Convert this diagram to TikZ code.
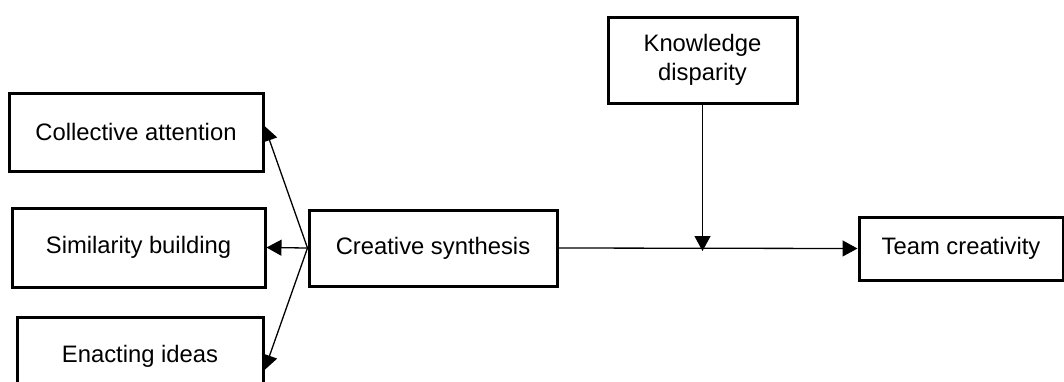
\documentclass[tikz,border=0pt]{standalone}
\usepackage{fontspec}
\setmainfont{Liberation Sans}
\usetikzlibrary{positioning,calc,arrows.meta}

\begin{document}
\begin{tikzpicture}[x=1pt,y=-1pt,-{Triangle[length=15pt,width=16pt]},line width=1.3pt,
			main node/.style={draw, rectangle, align=center, line width=3pt, inner sep=0pt,
			font=\fontsize{23.8}{28.5}\selectfont}]

			\useasboundingbox (0,0) rectangle (1064,381);

			\node[main node,minimum width=254pt,minimum height=78pt] (coll) at (136,132)    {Collective attention};
			\node[main node,minimum width=253pt,minimum height=79pt] (sim) at (138.5,247.5) {Similarity building};
			\node[main node,minimum width=246pt,minimum height=78pt] (enact) at (140,356) {Enacting ideas};
			\node[main node,minimum width=248pt,minimum height=76pt] (synth) at (433,248) {Creative synthesis};
			\node[main node,minimum width=204pt,minimum height=63pt] (team) at (961,248.5) {Team creativity};
			\node[main node,minimum width=189pt,minimum height=86pt] (know) at (702.5,60) {Knowledge\\disparity};

			\coordinate (mod) at (know.south |- synth.east);

			\draw (synth.west) -- ([yshift=6pt]coll.east);
			\draw (synth.west) -- (sim.east);
			\draw (synth.west) -- ([yshift=-14pt]enact.east);
			\draw (synth.east) -- (team.west);
			\draw (know.south) -- ([yshift=-3pt]mod);
		\end{tikzpicture}
\end{document}
